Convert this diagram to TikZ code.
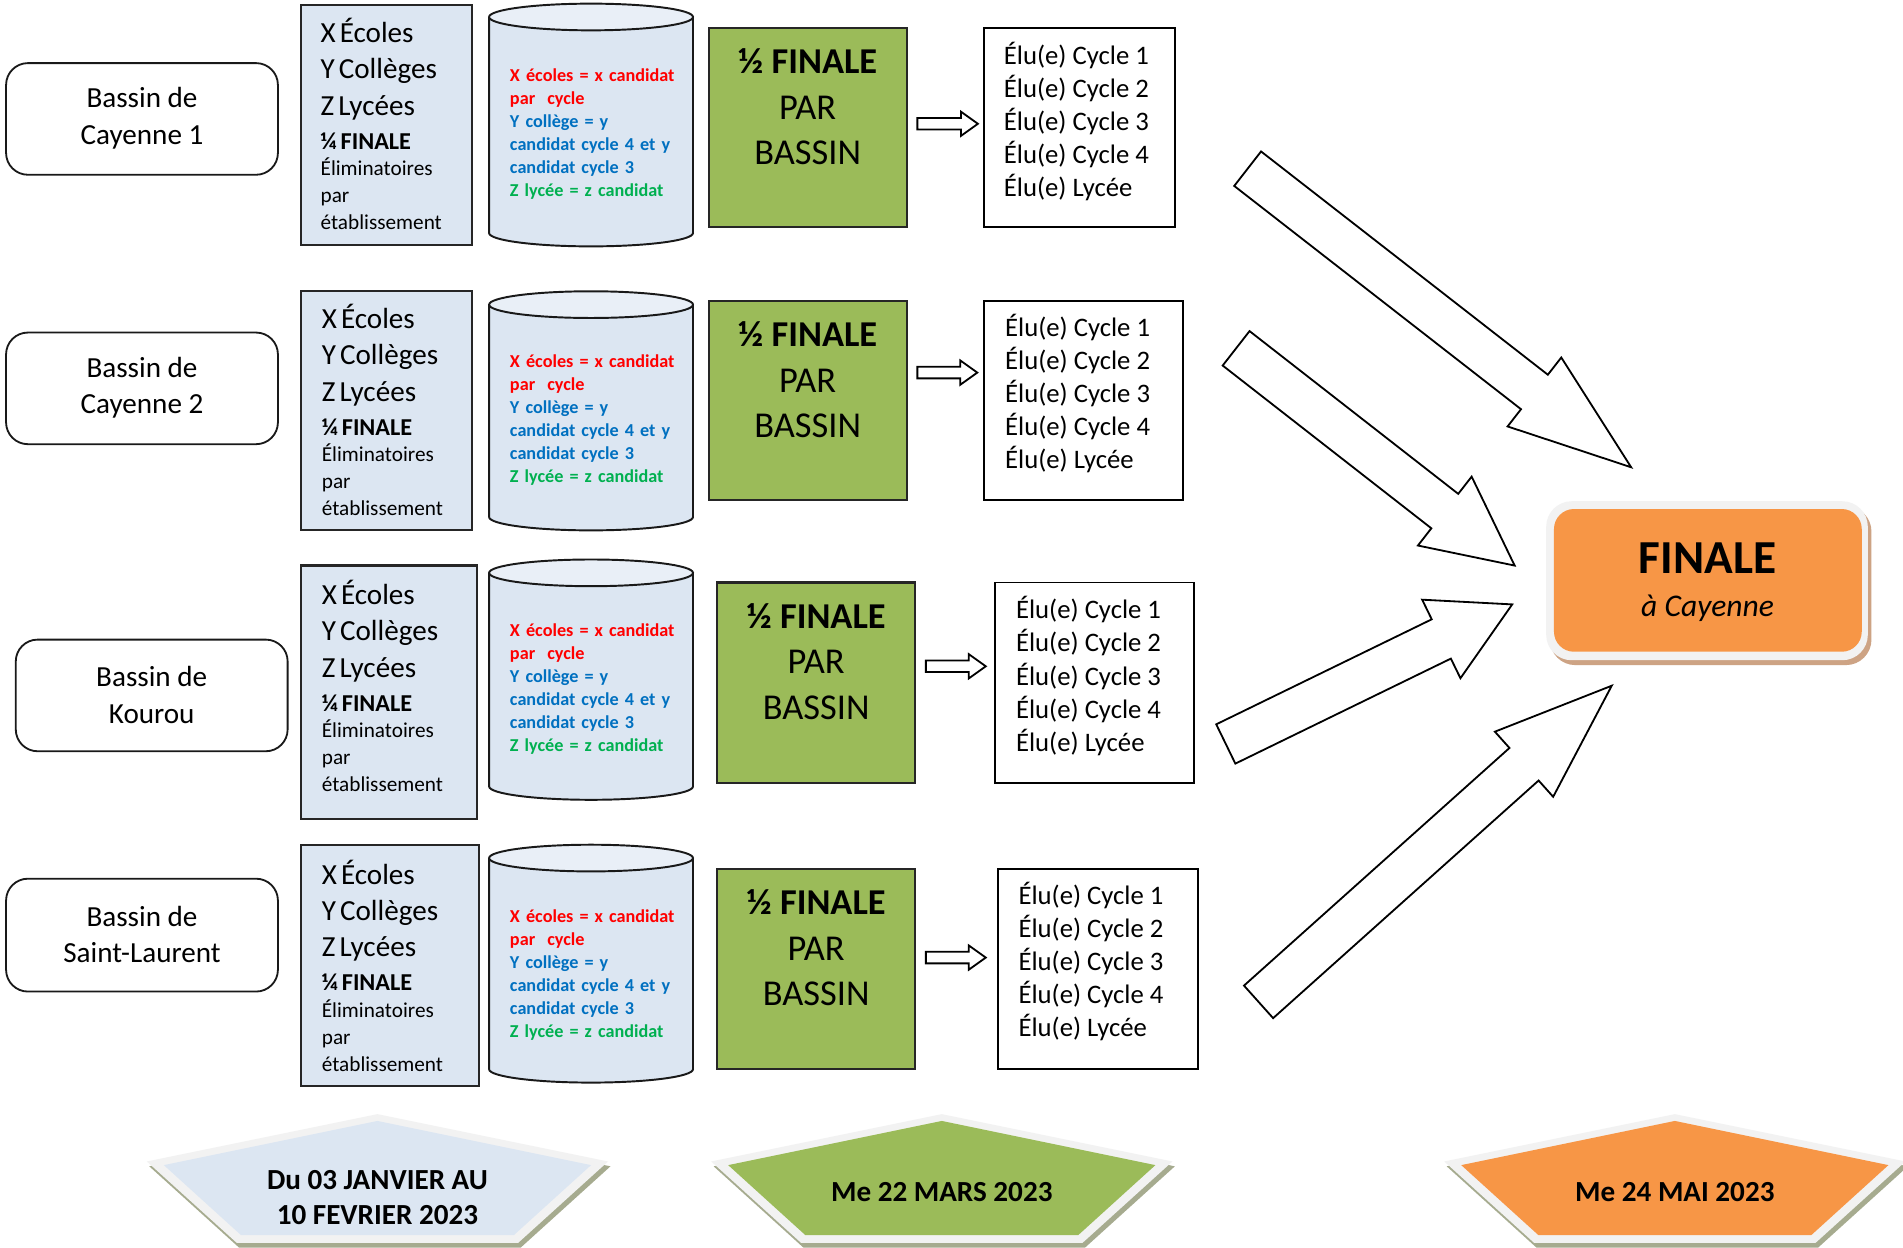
\documentclass[tikz,border=0pt]{standalone}
\usepackage{fontspec}
\setmainfont{Carlito}
\usetikzlibrary{calc}
\definecolor{lblue}{HTML}{DCE6F2}
\definecolor{ltop}{HTML}{E9EFF7}
\definecolor{ogreen}{HTML}{9BBB59}
\definecolor{oorange}{HTML}{F79646}
\definecolor{lgray}{HTML}{F2F2F2}
\definecolor{shadowol}{HTML}{A6AB8F}
\definecolor{shadowbr}{HTML}{CDA384}
\definecolor{tred}{HTML}{FF0000}
\definecolor{tblue}{HTML}{0070C0}
\definecolor{tgreen}{HTML}{00B050}
\newcommand{\bigarrow}[1]{%
  \draw[bigarr] ($(#1s)!18pt!90:(#1e)$) -- ($(#1h)!18pt!90:(#1e)$) -- ($(#1h)!36pt!90:(#1e)$) -- (#1e)
    -- ($(#1h)!36pt!-90:(#1e)$) -- ($(#1h)!18pt!-90:(#1e)$) -- ($(#1s)!18pt!-90:(#1e)$) -- cycle;}
\newcommand{\smallarrow}[1]{%
  \coordinate (#1h) at ($(#1e)!14pt!(#1s)$);
  \draw[smallarr] ($(#1s)!4.75pt!90:(#1e)$) -- ($(#1h)!4.75pt!90:(#1e)$) -- ($(#1h)!10pt!90:(#1e)$) -- (#1e)
    -- ($(#1h)!10pt!-90:(#1e)$) -- ($(#1h)!4.75pt!-90:(#1e)$) -- ($(#1s)!4.75pt!-90:(#1e)$) -- cycle;}
\newcommand{\pentagon}[2]{%
  \fill[shadowol] ($(#1,-918)+(2,-4)$) -- ($(#1+190,-957)+(2,-4)$) -- ($(#1+116,-1024)+(2,-4)$) -- ($(#1-116,-1024)+(2,-4)$) -- ($(#1-190,-957)+(2,-4)$) -- cycle;
  \fill[lgray] (#1,-918) -- (#1+190,-957) -- (#1+116,-1024) -- (#1-116,-1024) -- (#1-190,-957) -- cycle;
  \fill[#2] (#1,-923.6) -- (#1+176,-960) -- (#1+112.5,-1017.6) -- (#1-112.5,-1017.6) -- (#1-176,-960) -- cycle;}
\begin{document}
\begin{tikzpicture}[x=1pt,y=1pt,
  bassinbox/.style={draw=black!90, line width=1.5pt, rounded corners=18pt, minimum width=224pt, minimum height=92pt, inner sep=0pt},
  bassintext/.style={align=center, inner sep=0pt, font=\fontsize{24}{30}\selectfont},
  bluebox/.style={draw=black!85, line width=1.8pt, fill=lblue, inner sep=0pt},
  bluetext/.style={anchor=west, inner sep=0pt, text width=125pt, align=left},
  cylline/.style={draw=black!90, line width=1.6pt},
  cyltext/.style={anchor=west, inner sep=0pt, text width=145pt, align=left, font=\fontsize{15}{19}\selectfont\bfseries},
  greenbox/.style={draw=black!85, line width=1.8pt, fill=ogreen, inner sep=0pt, minimum width=163pt, minimum height=164pt},
  greentext/.style={anchor=north, inner sep=0pt, align=center, font=\fontsize{30}{37.5}\selectfont},
  elubox/.style={draw=black, line width=1.5pt, fill=white, inner sep=0pt, minimum height=164pt},
  elutext/.style={anchor=west, inner sep=0pt, align=left, font=\fontsize{22}{27.2}\selectfont},
  bigarr/.style={draw=black, line width=1.5pt, fill=white, line join=miter},
  smallarr/.style={draw=black, line width=1.5pt, fill=white, line join=miter},
  pentext/.style={align=center, inner sep=0pt, font=\fontsize{24}{29}\selectfont\bfseries},
]
\useasboundingbox (0,0) rectangle (1568,-1028);
\fill[white] (0,0) rectangle (1568,-1028);

% ---- bassin boxes
\node[bassinbox] (s1) at (117,-98) {};
\node[bassinbox] (s2) at (117,-320) {};
\node[bassinbox] (s3) at (125,-573) {};
\node[bassinbox, minimum height=93pt] (s4) at (117,-770.5) {};
\node[bassintext] (s1t) at ($(s1)+(0,0.5)$) {Bassin de\\Cayenne 1};
\node[bassintext] (s2t) at ($(s2)+(0,0.5)$) {Bassin de\\Cayenne 2};
\node[bassintext] (s3t) at ($(s3)+(0,0.5)$) {Bassin de\\Kourou};
\node[bassintext] (s4t) at ($(s4)+(0,0.5)$) {Bassin de\\Saint-Laurent};

% ---- blue boxes
\node[bluebox, minimum width=141pt, minimum height=198pt] (b1) at (318.5,-103) {};
\node[bluebox, minimum width=141pt, minimum height=197pt] (b2) at (318.5,-338.5) {};
\node[bluebox, minimum width=145pt, minimum height=209pt] (b3) at (320.5,-570.5) {};
\node[bluebox, minimum width=147pt, minimum height=199pt] (b4) at (321.5,-795.5) {};
\foreach \n/\x/\y in {1/264/102, 2/265/337.5, 3/265/565, 4/265/795.5}{
  \node[bluetext] (b\n t) at (\x,-\y) {{\fontsize{24}{30}\selectfont X Écoles\\Y Collèges\\Z Lycées\par}{\fontsize{20}{28}\selectfont\bfseries ¼ FINALE\par}{\fontsize{17.5}{22}\selectfont Éliminatoires\\par\\établissement\par}};
}

% ---- cylinders
\foreach \n/\ty/\by/\my in {1/14/192/110.2, 2/251/426/346, 3/472/648/567.5, 4/707/881/803.5}{
  \fill[lblue] (403,-\ty) -- (403,-\by) arc[start angle=180, end angle=360, x radius=84, y radius=11] -- (571,-\ty) -- cycle;
  \draw[cylline] (403,-\ty) -- (403,-\by) arc[start angle=180, end angle=360, x radius=84, y radius=11] -- (571,-\ty);
  \filldraw[cylline, fill=ltop] (487,-\ty) ellipse [x radius=84, y radius=11];
  \node[cyltext] (c\n t) at (420,-\my) {{\color{tred}X écoles = x candidat\\par\ \ cycle\par}{\color{tblue}Y collège = y\\candidat cycle 4 et y\\candidat cycle 3\par}{\color{tgreen}Z lycée = z candidat\par}};
}

% ---- green boxes
\node[greenbox] (g1) at (665.5,-105) {};
\node[greenbox] (g2) at (665.5,-330) {};
\node[greenbox, minimum height=165pt] (g3) at (672.5,-562.5) {};
\node[greenbox, minimum height=165pt] (g4) at (672.5,-798.5) {};
\foreach \n in {1,2,3,4}{
  \node[greentext] (g\n t) at ($(g\n.north)+(0,-18)$) {\textbf{½ FINALE}\\PAR\\BASSIN};
}

% ---- elected boxes
\node[elubox, minimum width=157pt] (e1) at (889.5,-105) {};
\node[elubox, minimum width=164pt] (e2) at (893,-330) {};
\node[elubox, minimum width=164pt, minimum height=165pt] (e3) at (902,-562.5) {};
\node[elubox, minimum width=165pt, minimum height=165pt] (e4) at (904.5,-798.5) {};
\foreach \n/\x/\y in {1/827/100.5, 2/828/324.5, 3/837/557, 4/839/792.5}{
  \node[elutext] (e\n t) at (\x,-\y) {Élu(e) Cycle 1\\Élu(e) Cycle 2\\Élu(e) Cycle 3\\Élu(e) Cycle 4\\Élu(e) Lycée};
}

% ---- small arrows
\coordinate (r1s) at ($(g1.east)+(8,3)$);   \coordinate (r1e) at ($(e1.west)+(-4.5,3)$);
\coordinate (r2s) at ($(g2.east)+(8,23)$);  \coordinate (r2e) at ($(e2.west)+(-5,23)$);
\coordinate (r3s) at ($(g3.east)+(8,13.5)$); \coordinate (r3e) at ($(e3.west)+(-7,13.5)$);
\coordinate (r4s) at ($(g4.east)+(8,9.5)$); \coordinate (r4e) at ($(e4.west)+(-9,9.5)$);
\smallarrow{r1}\smallarrow{r2}\smallarrow{r3}\smallarrow{r4}

% ---- FINALE box
\fill[shadowbr, rounded corners=21pt] (1277,-417) rectangle (1542,-548);
\fill[lgray, rounded corners=21pt] (1274,-413) rectangle (1539,-544);
\node[fill=oorange, rounded corners=16.5pt, minimum width=253.6pt, minimum height=117.6pt, inner sep=0pt] (fin) at (1407.2,-478.2) {};
\node[inner sep=0pt, font=\fontsize{39}{39}\selectfont\bfseries] (fint1) at (1407,-460) {FINALE};
\node[inner sep=0pt, font=\fontsize{26}{30}\selectfont\itshape] (fint2) at (1407,-501) {à Cayenne};

% ---- big arrows
\coordinate (a1s) at (1028,-139);   \coordinate (a1e) at (1344,-385);
\coordinate (a2s) at (1018.5,-287); \coordinate (a2e) at (1248,-466);
\coordinate (a3s) at (1010,-613);   \coordinate (a3e) at (1246,-498);
\coordinate (a4s) at (1037,-825.5); \coordinate (a4e) at (1328,-565);
\coordinate (a1h) at ($(a1e)!101pt!(a1s)$);
\coordinate (a2h) at ($(a2e)!73pt!(a2s)$);
\coordinate (a3h) at ($(a3e)!65pt!(a3s)$);
\coordinate (a4h) at ($(a4e)!97pt!(a4s)$);
\bigarrow{a1}\bigarrow{a2}\bigarrow{a3}\bigarrow{a4}

% ---- pentagons
\pentagon{311}{lblue}
\pentagon{776}{ogreen}
\pentagon{1380}{oorange}
\node[pentext] (p1t) at (311,-987) {Du 03 JANVIER AU\\10 FEVRIER 2023};
\node[pentext] (p2t) at (776,-982) {Me 22 MARS 2023};
\node[pentext] (p3t) at (1380,-982) {Me 24 MAI 2023};
\end{tikzpicture}
\end{document}
